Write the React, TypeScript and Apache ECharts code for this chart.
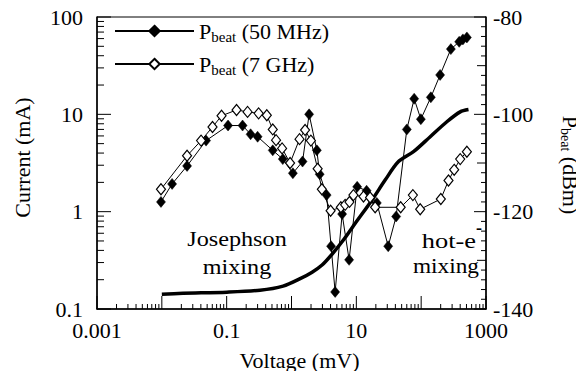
import React, { useEffect, useRef } from 'react';
import * as echarts from 'echarts';

const FONT = 'Liberation Serif';

// Beat power at 50 MHz (filled diamonds), right axis (dBm)
const beat50Voltage = [0.0097, 0.0144, 0.0245, 0.0481, 0.105, 0.176, 0.234, 0.3, 0.514, 0.734, 1.05, 1.48, 1.87, 2.46, 2.72, 3.48, 4.08, 4.71, 6.04, 7.74, 10.3, 14.4, 20.7, 31.0, 41.1, 60.1, 78.0, 98.9, 141, 196, 287, 386, 440, 507];
const beat50Power = [-118.0, -114.3, -110.6, -105.4, -102.3, -102.3, -104.1, -104.6, -107.4, -109.2, -112.1, -109.7, -100.0, -107.4, -112.3, -116.6, -127.1, -136.5, -120.5, -129.9, -114.9, -115.7, -118.2, -127.1, -121.0, -103.1, -96.8, -101.0, -96.5, -91.9, -86.6, -85.1, -84.6, -84.2];

// Beat power at 7 GHz (open diamonds), right axis (dBm)
const beat7Voltage = [0.0097, 0.0245, 0.0403, 0.0605, 0.0834, 0.142, 0.21, 0.311, 0.416, 0.514, 0.578, 0.716, 0.951, 1.33, 1.62, 1.99, 2.53, 2.94, 4.01, 5.77, 6.72, 7.83, 9.02, 12.9, 16.3, 19.5, 48.3, 74.5, 96.6, 201, 264, 323, 400, 507];
const beat7Power = [-115.4, -108.5, -105.4, -102.6, -100.3, -99.1, -99.5, -99.8, -100.2, -103.1, -105.3, -107.0, -110.0, -105.1, -103.2, -105.4, -111.2, -115.4, -119.8, -119.1, -118.6, -118.0, -116.6, -116.9, -117.1, -119.1, -119.1, -116.6, -119.5, -117.4, -113.6, -111.4, -109.2, -107.7];

// I-V curve (thick line), left axis (mA)
const ivVoltage = [0.01, 0.0212, 0.101, 0.327, 0.741, 1.36, 2.08, 2.96, 4.24, 6.49, 9.93, 17.5, 27.8, 44.7, 76.1, 138, 249, 400, 537];
const ivCurrent = [0.142, 0.145, 0.149, 0.156, 0.172, 0.205, 0.239, 0.283, 0.367, 0.523, 0.782, 1.32, 2.11, 3.27, 4.13, 5.89, 8.39, 10.6, 11.2];

const xTickLabels = ['0.001', '0.1', '10', '1000'];
const leftTickLabels = ['0.1', '1', '10', '100'];
const rightTickLabels = ['-140', '-120', '-100', '-80'];
const minorMultipliers = [2, 3, 4, 5, 6, 7, 8, 9];
const xDecades = [-3, -2, -1, 0, 1, 2];
const yDecades = [-1, 0, 1];
const rightMinorStep = 2;

const NAME_50 = 'Pbeat (50 MHz)';
const NAME_7 = 'Pbeat (7 GHz)';

const zip = (a: number[], b: number[]) => a.map((v, i) => [v, b[i]]);

export default function App() {
  const ref = useRef<HTMLDivElement>(null);
  useEffect(() => {
    if (!ref.current) return;
    const chart = echarts.init(ref.current, null, { renderer: 'svg' });

    const txt = { fontFamily: FONT, color: '#000' };
    const rich = {
      a: { ...txt, fontSize: 22, lineHeight: 26, verticalAlign: 'middle' },
      b: { ...txt, fontSize: 15, lineHeight: 11, verticalAlign: 'bottom' },
    };

    const option: any = {
      animation: false,
      backgroundColor: '#fff',
      textStyle: { fontFamily: FONT },
      grid: {
        left: 97, right: 98, top: 17, bottom: 70,
        show: true, borderColor: '#000', borderWidth: 1, backgroundColor: 'transparent',
        containLabel: false, outerBoundsMode: 'none',
      },
      legend: {
        data: [NAME_50, NAME_7],
        orient: 'vertical', left: 109, top: 15,
        itemWidth: 79, itemHeight: 13, itemGap: 9,
        textStyle: { ...txt, fontSize: 22, rich },
        formatter: (name: string) =>
          name === NAME_50 ? '{a|P}{b|beat}{a| (50 MHz)}' : '{a|P}{b|beat}{a| (7 GHz)}',
      },
      xAxis: {
        type: 'log', logBase: 10, min: 0.001, max: 1000, splitNumber: 6,
        name: 'Voltage (mV)', nameLocation: 'middle', nameGap: 40,
        nameTextStyle: { ...txt, fontSize: 22, padding: [0, 0, 0, 16] },
        axisLine: { onZero: false, lineStyle: { color: '#000', width: 1.5 } },
        axisTick: { show: false },
        axisLabel: {
          ...txt, fontSize: 22, margin: 10,
          formatter: (v: number) => {
            const e = Math.round(Math.log10(v));
            return Math.abs(e) % 2 === 1 ? xTickLabels[(e + 3) / 2] : '';
          },
        },
        splitLine: { show: false },
      },
      yAxis: [
        {
          type: 'log', logBase: 10, min: 0.1, max: 100, splitNumber: 3, position: 'left',
          name: 'Current (mA)', nameLocation: 'middle', nameGap: 64,
          nameTextStyle: { ...txt, fontSize: 22, padding: [0, 0, 0, 11] },
          axisLine: { onZero: false, lineStyle: { color: '#000', width: 1.5 } },
          axisTick: { show: false },
          axisLabel: {
            ...txt, fontSize: 22, margin: 14,
            formatter: (v: number) => leftTickLabels[Math.round(Math.log10(v)) + 1],
          },
          splitLine: { show: false },
        },
        {
          type: 'value', min: -140, max: -80, interval: 20, position: 'right',
          name: '{a|P}{b|beat}{a| (dBm)}', nameLocation: 'middle', nameGap: 72, nameRotate: -90,
          nameTextStyle: { ...txt, fontSize: 22, padding: [0, 0, 0, 4], rich: {
            a: { ...txt, fontSize: 22, lineHeight: 24, verticalAlign: 'middle' },
            b: { ...txt, fontSize: 14, lineHeight: 10, verticalAlign: 'bottom' },
          } },
          axisLine: { onZero: false, lineStyle: { color: '#000', width: 1.5 } },
          axisTick: { show: false },
          axisLabel: {
            ...txt, fontSize: 22, margin: 7,
            formatter: (v: number) => {
              const i = rightTickLabels.indexOf(String(v));
              return i >= 0 ? rightTickLabels[i] : '';
            },
          },
          splitLine: { show: false },
        },
      ],
      series: [
        {
          type: 'line', name: 'Current', xAxisIndex: 0, yAxisIndex: 0,
          data: zip(ivVoltage, ivCurrent), showSymbol: false, symbol: 'none', smooth: 0.3,
          lineStyle: { color: '#000', width: 3.5 },
        },
        {
          type: 'line', name: NAME_50, xAxisIndex: 0, yAxisIndex: 1,
          data: zip(beat50Voltage, beat50Power),
          symbol: 'diamond', symbolSize: [9, 11],
          lineStyle: { color: '#000', width: 1 },
          itemStyle: { color: '#000', borderColor: '#000', borderWidth: 0.5 },
        },
        {
          type: 'line', name: NAME_7, xAxisIndex: 0, yAxisIndex: 1,
          data: zip(beat7Voltage, beat7Power),
          symbol: 'diamond', symbolSize: [9, 11],
          lineStyle: { color: '#000', width: 1 },
          itemStyle: { color: '#fff', borderColor: '#000', borderWidth: 1.2 },
        },
      ],
    };
    chart.setOption(option);

    // Axis ticks positioned through the axes' own scales
    const gridRect = (chart as any).getModel().getComponent('grid', 0).coordinateSystem.getRect();
    const bottom = gridRect.y + gridRect.height;
    const left = gridRect.x;
    const right = gridRect.x + gridRect.width;
    const tickLines: any[] = [];
    const line = (x1: number, y1: number, x2: number, y2: number) =>
      tickLines.push({ type: 'line', silent: true, shape: { x1, y1, x2, y2 }, style: { stroke: '#000', lineWidth: 1 } });
    const addX = (v: number, len: number) => {
      const px = chart.convertToPixel({ xAxisIndex: 0 }, v) as number;
      line(px, bottom, px, bottom - len);
    };
    const addY = (v: number, len: number) => {
      const py = chart.convertToPixel({ yAxisIndex: 0 }, v) as number;
      line(left, py, left + len, py);
    };
    const addR = (v: number, len: number) => {
      const py = chart.convertToPixel({ yAxisIndex: 1 }, v) as number;
      line(right, py, right - len, py);
    };
    xDecades.forEach((d) => {
      addX(Math.pow(10, d), 13);
      minorMultipliers.forEach((m) => addX(m * Math.pow(10, d), 5));
    });
    addX(1000, 13);
    yDecades.forEach((d) => {
      addY(Math.pow(10, d), 14);
      minorMultipliers.forEach((m) => addY(m * Math.pow(10, d), 7));
    });
    addY(100, 14);
    for (let v = -140; v <= -80; v += rightMinorStep) {
      addR(v, v % 20 === 0 ? 12 : v % 10 === 0 ? 9 : 5);
    }

    chart.setOption({
      graphic: [
        ...tickLines,
        {
          type: 'text', x: 237, y: 252, scaleX: 1.1,
          style: { text: 'Josephson\nmixing', fontFamily: FONT, fontSize: 22, fill: '#000', textAlign: 'center', textVerticalAlign: 'middle', lineHeight: 28 },
        },
        {
          type: 'text', x: 476, y: 240, scaleX: 1.2,
          style: { text: 'hot-e', fontFamily: FONT, fontSize: 22, fill: '#000', textAlign: 'right', textVerticalAlign: 'middle' },
        },
        {
          type: 'text', x: 476, y: 228,
          style: { text: '-', fontFamily: FONT, fontSize: 18, fontWeight: 'bold', fill: '#000', textAlign: 'left', textVerticalAlign: 'middle' },
        },
        {
          type: 'text', x: 479, y: 266, scaleX: 1.06,
          style: { text: 'mixing', fontFamily: FONT, fontSize: 22, fill: '#000', textAlign: 'right', textVerticalAlign: 'middle' },
        },
      ],
    });
    return () => chart.dispose();
  }, []);
  return <div ref={ref} style={{ width: 584, height: 379, margin: -8 }} />;
}
